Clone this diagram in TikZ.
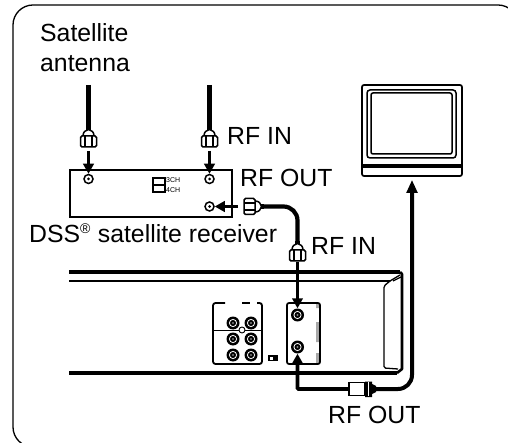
\documentclass[tikz,border=0pt]{standalone}
\usepackage{fontspec}
\setmainfont{Liberation Sans}
\usetikzlibrary{arrows.meta, positioning}
\definecolor{tabgray}{HTML}{A8A8A8}

\begin{document}
\begin{tikzpicture}[
  x=1pt, y=-1pt,
  % labels
  lbl/.style={font=\fontsize{24.8}{28}\selectfont, inner sep=0pt, anchor=base west},
  smalllbl/.style={font=\fontsize{7}{8}\selectfont, inner sep=0pt, anchor=west},
  % jacks
  lightport/.style={circle, draw=black, line width=1.5pt, fill=white, inner sep=0pt, minimum size=9pt,
    path picture={\fill[black] (path picture bounding box.center) circle (1.5pt);}},
  darkport/.style={circle, fill=black, inner sep=0pt, minimum size=13pt,
    path picture={\draw[white, line width=0.8pt] (path picture bounding box.center) circle (3.6pt);
                  \fill[gray] (path picture bounding box.center) circle (1.2pt);}},
  % boxes
  boxnode/.style={draw=black, line width=1.7pt, fill=white, inner sep=0pt},
  % cables and arrows
  cable/.style={line width=4.2pt, black},
  arr/.style={-{Triangle[length=10pt, width=10.5pt]}, line width=3.2pt},
  wirearr/.style={-{Triangle[length=10pt, width=10.5pt]}, line width=2.3pt},
  outarr/.style={-{Triangle[length=10pt, width=10.5pt]}, line width=3.8pt},
  tvarr/.style={-{Triangle[length=13pt, width=10.5pt]}, line width=4pt, shorten >=3pt},
  outline/.style={draw=black, line width=1.8pt},
  plugline/.style={draw=black, line width=1.5pt},
  % coaxial plug, cable end at the origin
  plug/.pic={
    \fill[black] (-2.5,-1) rectangle (2.5,3);
    \draw[plugline, fill=white] (-5.5,8) .. controls (-5.5,4) and (-3,2) .. (0,1.5)
      .. controls (3,2) and (5.5,4) .. (5.5,8) -- cycle;
    \draw[plugline, fill=white, rounded corners=1.5pt] (-8,8) rectangle (8,19);
    \draw[black, line width=1.1pt] (-3.5,8) -- (-3.5,19) (3.5,8) -- (3.5,19);
  },
]
\useasboundingbox (0,0) rectangle (508,443);

% -- frame --------------------
\begin{scope}
\clip (0,0) rectangle (508,443);
\draw[black, line width=1.3pt, rounded corners=20pt] (60,447) -- (13,447) -- (13,5) -- (518,5) -- (518,60);
\end{scope}

% -- labels --------------------
\node[lbl] (satl) at (40,42) {Satellite};
\node[lbl] (antl) at (40,72) {antenna};
\node[lbl] (rfina) at (227,145) {RF IN};
\node[lbl] (rfouta) at (240,187) {RF OUT};
\node[lbl] (dssl) at (29,243) {DSS\textsuperscript{\fontsize{14}{14}\selectfont ®} satellite receiver};
\node[lbl] (rfinb) at (311,255) {RF IN};
\node[lbl] (rfoutb) at (328,423) {RF OUT};

% -- receiver --------------------
\node[boxnode, minimum width=162pt, minimum height=47pt] (recv) at (151,193.5) {};
\node[lightport] (rca) at (88.5,179) {};
\node[lightport] (rcb) at (209.5,179) {};
\node[lightport] (rcc) at (209.5,206.5) {};
\node[draw=black, line width=1.2pt, minimum width=12pt, minimum height=14pt, inner sep=0pt] (sw) at (159,185) {};
\draw[black, line width=1.2pt] (sw.west) -- (sw.east);
\node[smalllbl] (cha) at (166,180) {3CH};
\node[smalllbl] (chb) at (166,190) {4CH};

% -- top cables --------------------
\foreach \n/\x in {a/88.5, b/209.5} {
  \coordinate (top\n) at (\x,85);
  \coordinate (plug\n) at (\x,128);
  \coordinate (tail\n) at (\x,151);
  \draw[cable] (top\n) -- (plug\n);
  \pic at (plug\n) {plug};
}
\draw[arr] (taila) -- (rca);
\draw[arr] (tailb) -- (rcb);

% -- receiver to block --------------------
\coordinate (plugc) at (263,206.5);
\coordinate (tailc) at (238,206.5);
\coordinate (plugd) at (297.5,242);
\coordinate (taild) at (297.5,262);
\draw[cable, rounded corners=14pt] (plugc) -| (plugd);
\pic[rotate=-90] at (plugc) {plug};
\pic at (plugd) {plug};
\draw[arr] (tailc) -- (rcc);

% -- block --------------------
\draw[black, line width=3.8pt] (69,272) -- (400,272);
\draw[black, line width=1.5pt] (69,281) -- (390,281);
\draw[black, line width=3.5pt] (69,373) -- (397,373);
\draw[black, line width=2.6pt, line join=round] (397,373) -- (402,369) -- (402,274) -- (400,272);
\draw[black, line width=1.3pt, rounded corners=1.5pt] (400,275) -- (390,281) -- (384,286) -- (384,368) -- (398,369);
\draw[black, line width=1.3pt] (393,281) -- (401,277);

% -- jacks of the block --------------------
\draw[outline, rounded corners=2.5pt] (225,303) -- (213,303) -- (213,364) -- (262,364) -- (262,303) -- (257,303);
\draw[outline] (242,303) -- (250,303);
\draw[black, line width=1pt] (213,330) -- (262,330);
\foreach \n/\x/\y in {ja/233/323, jb/251/323, jc/233/339, jd/251/339, je/233/355, jf/251/355} {
  \node[darkport] (\n) at (\x,\y) {};
}
\node[circle, draw=black, fill=white, line width=0.9pt, inner sep=0pt, minimum size=6pt] (hole) at (242,330) {};
\node[fill=black, inner sep=0pt, minimum width=10pt, minimum height=6pt] (tinysw) at (273,358) {};
\node[fill=white, inner sep=0pt, minimum size=3pt] (tinyhole) at (271.5,358) {};

\fill[tabgray] (316,304) rectangle (320,308) (316,322) rectangle (320,342) (316,353) rectangle (320,363);
\node[draw=black, line width=1.7pt, rounded corners=2pt, minimum width=33pt, minimum height=61pt, inner sep=0pt] (inpanel) at (303.5,333.5) {};
\node[darkport] (jin) at (297.5,315) {};
\node[darkport] (jout) at (297.5,347) {};
\draw[wirearr] (taild) -- (jin);

% -- tv --------------------
\node[boxnode, rounded corners=2pt, minimum width=100pt, minimum height=91pt] (tv) at (412,130.5) {};
\node[draw=black, line width=1.5pt, rounded corners=3pt, minimum width=89pt, minimum height=68pt, inner sep=0pt] (tvbez) at (411.5,124) {};
\node[draw=black, line width=1.5pt, rounded corners=2pt, minimum width=81pt, minimum height=61pt, inner sep=0pt] (tvscr) at (411.5,123.5) {};
\draw[black, line width=1.2pt] (tv.west |- 0,165) -- (tv.east |- 0,165);
\draw[black, line width=1.2pt] (tv.west |- 0,167) -- (tv.east |- 0,167);
\foreach \x in {429,436,443,449} {
  \fill[black] (\x-2,165) rectangle (\x+2,167.5);
}

% -- rf out plug and cables --------------------
\coordinate (outl) at (349,389);
\coordinate (outr) at (375,389);
\draw[tvarr, rounded corners=14pt] (outr) -| (tv.south);
\draw[outarr, rounded corners=1pt] (outl) -| (jout);
\node[draw=black, line width=1.6pt, fill=white, minimum width=16pt, minimum height=13pt, inner sep=0pt] (barrel) at (357,389) {};
\fill[black] (365,381.5) rectangle (372,397) (372,384) -- (376,386) -- (376,392) -- (372,394) -- cycle;
\draw[white, line width=0.7pt] (368.5,382) -- (368.5,396);

\end{tikzpicture}
\end{document}
